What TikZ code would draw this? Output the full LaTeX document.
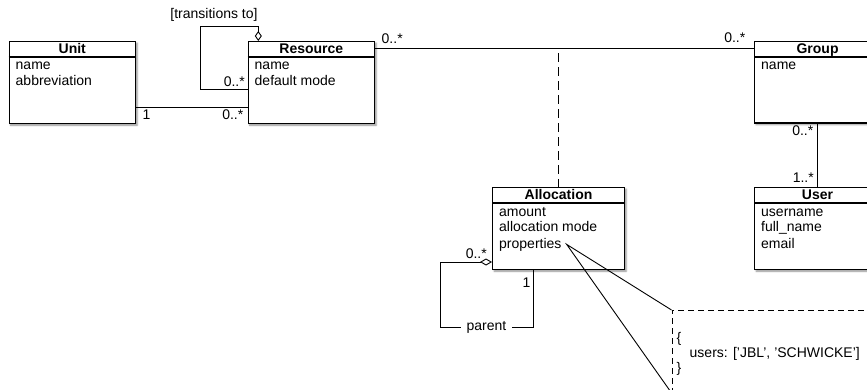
\documentclass[tikz,border=0pt]{standalone}
\usepackage{fontspec}
\setmainfont{Liberation Sans}
\usetikzlibrary{arrows.meta,shadows.blur,calc}

\tikzset{
  classbox/.style={draw, line width=1.1pt, fill=white, inner sep=0pt,
    blur shadow={shadow xshift=1.6pt, shadow yshift=-1.6pt,
      shadow blur radius=1.8pt, shadow opacity=45}},
  sepline/.style={line width=1.1pt},
  classtitle/.style={font=\fontsize{14pt}{16pt}\selectfont\bfseries, inner sep=0pt, anchor=base},
  attr/.style={inner sep=0pt, anchor=base west},
  mult/.style={inner sep=0pt},
  assoc/.style={line width=0.9pt},
  depline/.style={line width=0.9pt, dash pattern=on 9pt off 5pt, dash phase=9pt},
  notebox/.style={draw, line width=0.9pt, dash pattern=on 6pt off 4pt, inner sep=0pt},
  aggr/.style={{Diamond[open, length=#1, width=7pt, line width=0.9pt]}-},
}

% one UML class: name, left, top, width, height, title
\newcommand{\umlclass}[6]{%
  \node[classbox, minimum width=#4pt, minimum height=#5pt, anchor=north west] (#1) at (#2,#3) {};
  \draw[sepline] ([yshift=-16pt]#1.north west) -- ([yshift=-16pt]#1.north east);
  \node[classtitle] (#1-title) at ([yshift=-12.5pt]#1.north) {#6};
}
\newcommand{\umlattr}[4]{% class, index, row offset, text
  \node[attr] (#1-a#2) at ([xshift=7pt,yshift=-#3pt]#1.north west) {#4};
}

\begin{document}
\begin{tikzpicture}[x=1pt, y=-1pt, font=\fontsize{14pt}{16pt}\selectfont]
\useasboundingbox (0,0) rectangle (867,390);

% classes
\umlclass{unit}{8.5}{41}{126.5}{82}{Unit}
\umlattr{unit}{1}{29}{name}
\umlattr{unit}{2}{45}{abbreviation}

\umlclass{resource}{247.5}{41}{126.5}{82}{Resource}
\umlattr{resource}{1}{29}{name}
\umlattr{resource}{2}{45}{default mode}

\umlclass{group}{754}{41}{126}{81.5}{Group}
\umlattr{group}{1}{29}{name}

\umlclass{user}{754}{187}{126}{82}{User}
\umlattr{user}{1}{29}{username}
\umlattr{user}{2}{45}{full\_name}
\umlattr{user}{3}{61}{email}

\umlclass{alloc}{492}{187}{132}{82}{Allocation}
\umlattr{alloc}{1}{29}{amount}
\umlattr{alloc}{2}{45}{allocation mode}
\umlattr{alloc}{3}{61}{properties}

% helper points
\coordinate (unitrow) at (0,107.3);
\coordinate (grouprow) at (0,48.3);
\coordinate (trcorner) at (200.7,26.7);
\coordinate (parentcorner) at (440,327);

% Unit -- Resource
\draw[assoc] (unit.east |- unitrow) -- (resource.west |- unitrow);
\node[mult, anchor=base west] (m-unit) at (142.5,120) {1};
\node[mult, anchor=base east] (m-res1) at (243.5,120) {0..*};

% Resource self association
\draw[assoc, aggr=10pt] ([xshift=10.8pt]resource.north west) |- (trcorner)
  |- ([yshift=-48.3pt]resource.north west);
\node[mult, anchor=base] (trlabel) at (214,18.5) {[transitions to]};
\node[mult, anchor=base east] (m-res2) at (245,87) {0..*};

% Resource -- Group
\draw[assoc] (resource.east |- grouprow) -- (group.west |- grouprow);
\node[mult, anchor=base west] (m-res3) at (381.5,44) {0..*};
\node[mult, anchor=base east] (m-grp1) at (745.5,42.5) {0..*};

% association class
\draw[depline] (alloc.north |- grouprow) -- (alloc.north);

% Group -- User
\draw[assoc] (group.south) -- (user.north);
\node[mult, anchor=base east] (m-grp2) at (813.5,136) {0..*};
\node[mult, anchor=base east] (m-usr) at (814,183) {1..*};

% Allocation parent
\draw[assoc, aggr=12pt] ([yshift=-75pt]alloc.north west) -| (parentcorner)
  -| node[pos=0.25, fill=white, inner xsep=6pt, inner ysep=1pt] (parentlbl) {parent}
  ([xshift=41pt]alloc.south west);
\node[mult, anchor=base east] (m-al1) at (487,258) {0..*};
\node[mult, anchor=base west] (m-al2) at (522.5,287) {1};

% note on properties
\node[notebox, minimum width=260pt, minimum height=82pt, anchor=north west] (note) at (671.5,310) {};
\node[attr] (note-l1) at (676.5,342) {\{};
\node[attr] (note-l2) at (689.5,357) {users: ['JBL', 'SCHWICKE']};
\node[attr] (note-l3) at (676.5,372) {\}};
\coordinate (propend) at ([xshift=5pt]alloc-a3.east);
\draw[assoc] (note.north west) -- (propend) -- (note.south west);
\end{tikzpicture}
\end{document}
